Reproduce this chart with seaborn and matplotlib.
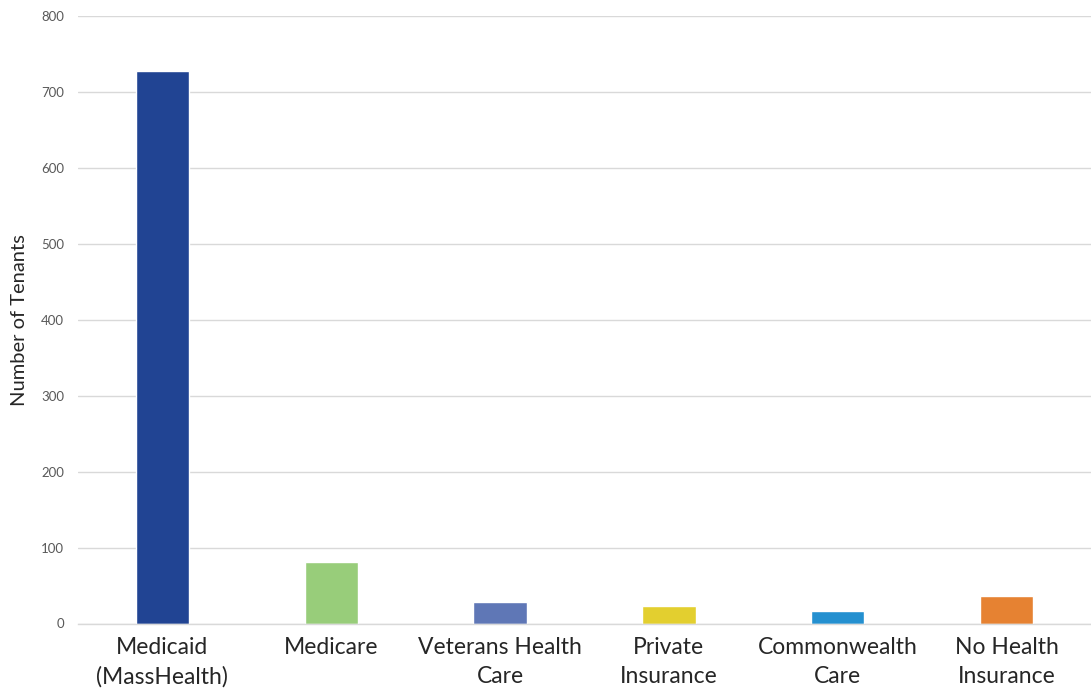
import matplotlib
matplotlib.use("Agg")
import matplotlib.pyplot as plt
import seaborn as sns
import pandas as pd

categories = [
    "Medicaid\n(MassHealth)",
    "Medicare",
    "Veterans Health\nCare",
    "Private\nInsurance",
    "Commonwealth\nCare",
    "No Health\nInsurance",
]
tenants = [728, 81, 28, 23, 16, 36]
bar_colors = ["#214493", "#98cd7a", "#5f77b6", "#e3cf2f", "#2490d0", "#e68232"]
y_ticks = [0, 100, 200, 300, 400, 500, 600, 700, 800]

df = pd.DataFrame({"category": categories, "tenants": tenants})

sns.set_theme(style="white")
plt.rcParams["font.family"] = ["Lato", "DejaVu Sans"]

fig = plt.figure(figsize=(10.91, 6.96), dpi=100)
ax = fig.add_axes([78 / 1091, 72.5 / 696, 1 - 78 / 1091, (623.5 - 16) / 696])

sns.barplot(
    data=df,
    x="category",
    y="tenants",
    hue="category",
    palette=bar_colors,
    width=0.315,
    legend=False,
    saturation=1,
    ax=ax,
)

ax.set_ylim(0, 800)
ax.set_xlim(-0.5, len(categories) - 0.5)
ax.set_yticks(y_ticks)
ax.yaxis.grid(True, color="#d9d9d9", linewidth=1)
ax.set_axisbelow(True)
for side in ["top", "right", "left"]:
    ax.spines[side].set_visible(False)
ax.spines["bottom"].set_color("#d9d9d9")
ax.spines["bottom"].set_linewidth(1)

ax.tick_params(axis="y", length=0, labelsize=9.5, labelcolor="#595959", pad=10)
ax.tick_params(axis="x", length=0, labelsize=16.5, labelcolor="#262626", pad=10)
for lbl in ax.get_xticklabels():
    lbl.set_linespacing(1.45)

ax.set_xlabel("")
ax.set_ylabel("Number of Tenants", fontsize=14.5, color="#262626")
ax.yaxis.set_label_coords((28 - 78) / 1013, 0.5)

fig.savefig("out.png", dpi=100)
